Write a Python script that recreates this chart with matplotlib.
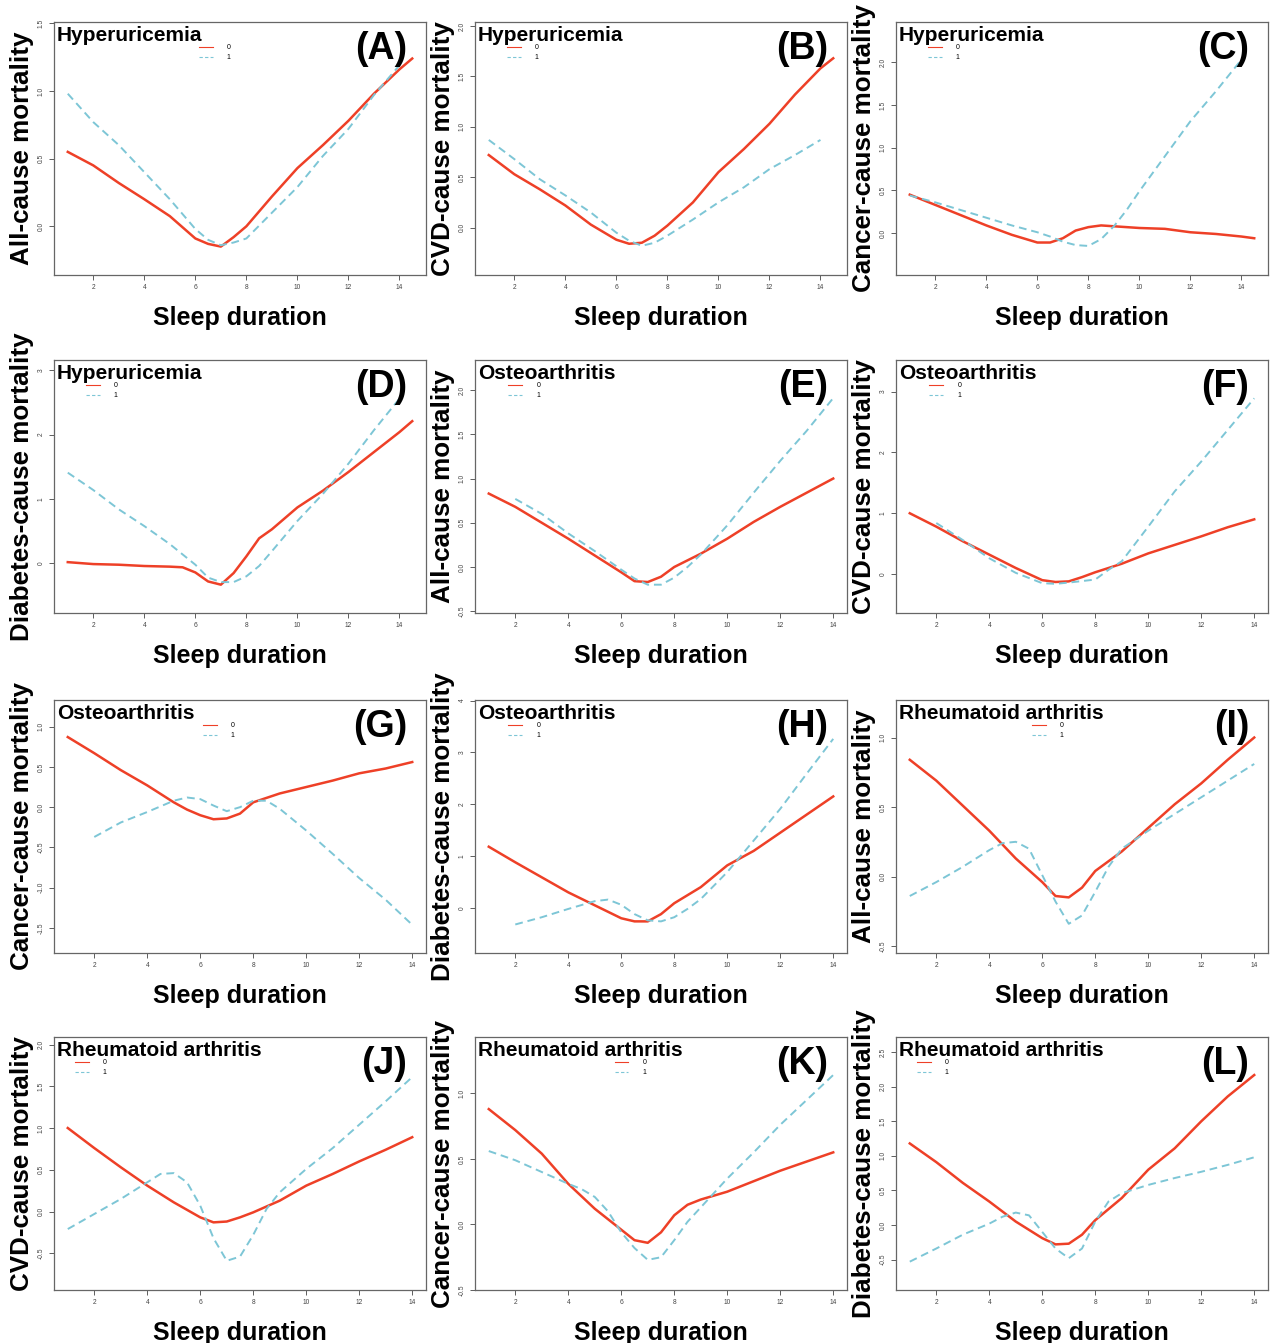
# -*- coding: utf-8 -*-
"""Sleep duration vs. mortality — 12 panel grid (A–L), group 0 vs. group 1.

Values read off the published figure; each panel shows one disease split
(0 = without, 1 = with) and one mortality outcome.
"""
import matplotlib
matplotlib.use("Agg")
import matplotlib.pyplot as plt
from matplotlib.lines import Line2D

plt.rcParams["font.family"] = ["Liberation Sans", "DejaVu Sans"]

RED = "#EE4027"
BLUE = "#7DC6D6"

# ---- data (sleep duration on x, log hazard on y) ----
a_red_x = [1, 2, 3, 4, 5, 6, 6.5, 7, 7.5, 8, 9, 10, 11, 12, 13, 14, 14.5]
a_red_y = [0.55, 0.45, 0.32, 0.20, 0.075, -0.09, -0.13, -0.15, -0.08, 0.0, 0.22, 0.43, 0.60, 0.78, 0.98, 1.16, 1.24]
a_blue_x = [1, 2, 3, 4, 5, 6, 6.5, 7, 7.5, 8, 9, 10, 11, 12, 13, 14]
a_blue_y = [0.98, 0.77, 0.60, 0.40, 0.20, -0.02, -0.10, -0.14, -0.12, -0.09, 0.10, 0.29, 0.52, 0.72, 0.97, 1.19]

b_red_x = [1, 2, 3, 4, 5, 6, 6.5, 7, 7.5, 8, 9, 10, 11, 12, 13, 14, 14.5]
b_red_y = [0.72, 0.53, 0.38, 0.22, 0.03, -0.12, -0.16, -0.15, -0.08, 0.02, 0.25, 0.55, 0.78, 1.03, 1.32, 1.58, 1.68]
b_blue_x = [1, 2, 3, 4, 5, 6, 6.5, 7, 7.5, 8, 9, 10, 11, 12, 13, 14]
b_blue_y = [0.87, 0.68, 0.48, 0.32, 0.15, -0.05, -0.13, -0.18, -0.15, -0.08, 0.08, 0.25, 0.40, 0.58, 0.72, 0.87]

c_red_x = [1, 2, 3, 4, 5, 6, 6.5, 7, 7.5, 8, 8.5, 9, 10, 11, 12, 13, 14, 14.5]
c_red_y = [0.45, 0.33, 0.21, 0.09, -0.02, -0.11, -0.11, -0.06, 0.03, 0.07, 0.09, 0.08, 0.06, 0.05, 0.01, -0.01, -0.04, -0.06]
c_blue_x = [1, 2, 3, 4, 5, 6, 6.5, 7, 7.5, 8, 8.5, 9, 9.5, 10, 11, 12, 13, 14]
c_blue_y = [0.44, 0.36, 0.27, 0.18, 0.09, 0.01, -0.04, -0.10, -0.14, -0.15, -0.07, 0.08, 0.27, 0.49, 0.90, 1.31, 1.66, 2.03]

d_red_x = [1, 2, 3, 4, 5, 5.5, 6, 6.5, 7, 7.5, 8, 8.5, 9, 10, 11, 12, 13, 14, 14.5]
d_red_y = [0.02, -0.01, -0.02, -0.04, -0.05, -0.06, -0.14, -0.28, -0.33, -0.15, 0.11, 0.39, 0.53, 0.87, 1.13, 1.42, 1.73, 2.04, 2.21]
d_blue_x = [1, 2, 3, 4, 5, 6, 6.5, 7, 7.5, 8, 8.5, 9, 10, 11, 12, 13, 14]
d_blue_y = [1.41, 1.14, 0.84, 0.58, 0.30, -0.02, -0.22, -0.29, -0.29, -0.20, -0.04, 0.19, 0.66, 1.08, 1.55, 2.07, 2.56]

e_red_x = [1, 2, 3, 4, 5, 6, 6.5, 7, 7.5, 8, 9, 10, 11, 12, 13, 14]
e_red_y = [0.83, 0.68, 0.50, 0.32, 0.13, -0.06, -0.16, -0.17, -0.11, 0.0, 0.15, 0.32, 0.51, 0.68, 0.84, 1.0]
e_blue_x = [2, 3, 4, 5, 6, 6.5, 7, 7.5, 8, 8.5, 9, 10, 11, 12, 13, 14]
e_blue_y = [0.77, 0.60, 0.38, 0.18, -0.03, -0.13, -0.20, -0.20, -0.12, 0.0, 0.14, 0.47, 0.84, 1.20, 1.54, 1.91]

f_red_x = [1, 2, 3, 4, 5, 6, 6.5, 7, 7.5, 8, 9, 10, 11, 12, 13, 14]
f_red_y = [1.0, 0.78, 0.54, 0.32, 0.10, -0.10, -0.13, -0.12, -0.05, 0.03, 0.17, 0.34, 0.48, 0.62, 0.77, 0.90]
f_blue_x = [2, 3, 4, 5, 6, 6.5, 7, 8, 8.5, 9, 10, 11, 12, 13, 14]
f_blue_y = [0.84, 0.56, 0.26, 0.02, -0.15, -0.16, -0.14, -0.09, 0.07, 0.21, 0.78, 1.36, 1.85, 2.37, 2.89]

g_red_x = [1, 2, 3, 4, 5, 5.5, 6, 6.5, 7, 7.5, 8, 9, 10, 11, 12, 13, 14]
g_red_y = [0.87, 0.67, 0.46, 0.27, 0.06, -0.03, -0.10, -0.15, -0.14, -0.08, 0.06, 0.17, 0.25, 0.33, 0.42, 0.48, 0.56]
g_blue_x = [2, 3, 4, 5, 5.5, 6, 6.5, 7, 7.5, 8, 8.5, 9, 10, 11, 12, 13, 14]
g_blue_y = [-0.37, -0.19, -0.06, 0.08, 0.12, 0.10, 0.02, -0.05, 0.0, 0.08, 0.08, -0.02, -0.29, -0.58, -0.88, -1.15, -1.46]

h_red_x = [1, 2, 3, 4, 5, 6, 6.5, 7, 7.5, 8, 9, 10, 11, 12, 13, 14]
h_red_y = [1.18, 0.88, 0.59, 0.30, 0.05, -0.20, -0.26, -0.26, -0.12, 0.09, 0.40, 0.82, 1.10, 1.45, 1.80, 2.15]
h_blue_x = [2, 3, 4, 5, 5.5, 6, 6.5, 7, 7.5, 8, 8.5, 9, 10, 11, 12, 13, 14]
h_blue_y = [-0.32, -0.18, -0.02, 0.13, 0.16, 0.06, -0.12, -0.24, -0.26, -0.18, -0.02, 0.17, 0.69, 1.30, 1.91, 2.59, 3.26]

i_red_x = [1, 2, 3, 4, 5, 6, 6.5, 7, 7.5, 8, 9, 10, 11, 12, 13, 14]
i_red_y = [0.84, 0.69, 0.51, 0.33, 0.13, -0.04, -0.14, -0.15, -0.08, 0.04, 0.18, 0.35, 0.52, 0.67, 0.84, 1.0]
i_blue_x = [1, 2, 3, 4, 4.5, 5, 5.5, 6, 6.5, 7, 7.5, 8, 8.5, 9, 10, 11, 12, 13, 14]
i_blue_y = [-0.14, -0.04, 0.07, 0.19, 0.24, 0.25, 0.20, 0.01, -0.18, -0.34, -0.28, -0.11, 0.07, 0.20, 0.33, 0.45, 0.57, 0.69, 0.81]

j_red_x = [1, 2, 3, 4, 5, 6, 6.5, 7, 7.5, 8, 9, 10, 11, 12, 13, 14]
j_red_y = [1.0, 0.76, 0.53, 0.31, 0.11, -0.07, -0.13, -0.12, -0.07, -0.01, 0.13, 0.31, 0.45, 0.60, 0.74, 0.89]
j_blue_x = [1, 2, 3, 4, 4.5, 5, 5.5, 6, 6.5, 7, 7.5, 8, 8.5, 9, 10, 11, 12, 13, 14]
j_blue_y = [-0.21, -0.03, 0.15, 0.35, 0.45, 0.46, 0.35, 0.07, -0.32, -0.59, -0.54, -0.28, 0.03, 0.23, 0.51, 0.76, 1.04, 1.32, 1.61]

k_red_x = [1, 2, 3, 4, 5, 6, 6.5, 7, 7.5, 8, 8.5, 9, 10, 11, 12, 13, 14]
k_red_y = [0.88, 0.72, 0.54, 0.31, 0.12, -0.04, -0.12, -0.14, -0.06, 0.07, 0.15, 0.19, 0.25, 0.33, 0.41, 0.48, 0.55]
k_blue_x = [1, 2, 3, 4, 4.5, 5, 5.5, 6, 6.5, 7, 7.5, 8, 8.5, 9, 10, 11, 12, 13, 14]
k_blue_y = [0.56, 0.49, 0.40, 0.31, 0.27, 0.21, 0.10, -0.06, -0.18, -0.27, -0.25, -0.12, 0.02, 0.13, 0.35, 0.55, 0.76, 0.95, 1.14]

l_red_x = [1, 2, 3, 4, 5, 6, 6.5, 7, 7.5, 8, 9, 10, 11, 12, 13, 14]
l_red_y = [1.18, 0.91, 0.61, 0.34, 0.05, -0.19, -0.28, -0.27, -0.14, 0.07, 0.39, 0.80, 1.11, 1.50, 1.86, 2.17]
l_blue_x = [1, 2, 3, 4, 4.5, 5, 5.5, 6, 6.5, 7, 7.5, 8, 8.5, 9, 10, 11, 12, 13, 14]
l_blue_y = [-0.53, -0.34, -0.14, 0.02, 0.12, 0.18, 0.14, -0.10, -0.34, -0.48, -0.34, 0.05, 0.34, 0.46, 0.58, 0.68, 0.77, 0.87, 0.98]

x_ticks = [2, 4, 6, 8, 10, 12, 14]

# (letter, disease, outcome, red, blue, ylim, yticks, ytick labels, legend x)
panels = [
    ("A", "Hyperuricemia", "All-cause mortality", (a_red_x, a_red_y), (a_blue_x, a_blue_y),
     (-0.36, 1.51), [0, 0.5, 1, 1.5], ["0.0", "0.5", "1.0", "1.5"], 0.39),
    ("B", "Hyperuricemia", "CVD-cause mortality", (b_red_x, b_red_y), (b_blue_x, b_blue_y),
     (-0.47, 2.04), [0, 0.5, 1, 1.5, 2], ["0.0", "0.5", "1.0", "1.5", "2.0"], 0.086),
    ("C", "Hyperuricemia", "Cancer-cause mortality", (c_red_x, c_red_y), (c_blue_x, c_blue_y),
     (-0.49, 2.47), [0, 0.5, 1, 1.5, 2], ["0.0", "0.5", "1.0", "1.5", "2.0"], 0.086),
    ("D", "Hyperuricemia", "Diabetes-cause mortality", (d_red_x, d_red_y), (d_blue_x, d_blue_y),
     (-0.77, 3.16), [0, 1, 2, 3], ["0", "1", "2", "3"], 0.086),
    ("E", "Osteoarthritis", "All-cause mortality", (e_red_x, e_red_y), (e_blue_x, e_blue_y),
     (-0.52, 2.34), [-0.5, 0, 0.5, 1, 1.5, 2], ["-0.5", "0.0", "0.5", "1.0", "1.5", "2.0"], 0.09),
    ("F", "Osteoarthritis", "CVD-cause mortality", (f_red_x, f_red_y), (f_blue_x, f_blue_y),
     (-0.64, 3.52), [0, 1, 2, 3], ["0", "1", "2", "3"], 0.09),
    ("G", "Osteoarthritis", "Cancer-cause mortality", (g_red_x, g_red_y), (g_blue_x, g_blue_y),
     (-1.81, 1.33), [-1.5, -1, -0.5, 0, 0.5, 1], ["-1.5", "-1.0", "-0.5", "0.0", "0.5", "1.0"], 0.40),
    ("H", "Osteoarthritis", "Diabetes-cause mortality", (h_red_x, h_red_y), (h_blue_x, h_blue_y),
     (-0.87, 4.01), [0, 1, 2, 3, 4], ["0", "1", "2", "3", "4"], 0.09),
    ("I", "Rheumatoid arthritis", "All-cause mortality", (i_red_x, i_red_y), (i_blue_x, i_blue_y),
     (-0.55, 1.27), [-0.5, 0, 0.5, 1], ["-0.5", "0.0", "0.5", "1.0"], 0.365),
    ("J", "Rheumatoid arthritis", "CVD-cause mortality", (j_red_x, j_red_y), (j_blue_x, j_blue_y),
     (-0.94, 2.09), [-0.5, 0, 0.5, 1, 1.5, 2], ["-0.5", "0.0", "0.5", "1.0", "1.5", "2.0"], 0.056),
    ("K", "Rheumatoid arthritis", "Cancer-cause mortality", (k_red_x, k_red_y), (k_blue_x, k_blue_y),
     (-0.50, 1.43), [-0.5, 0, 0.5, 1], ["-0.5", "0.0", "0.5", "1.0"], 0.375),
    ("L", "Rheumatoid arthritis", "Diabetes-cause mortality", (l_red_x, l_red_y), (l_blue_x, l_blue_y),
     (-0.94, 2.72), [-0.5, 0, 0.5, 1, 1.5, 2, 2.5], ["-0.5", "0.0", "0.5", "1.0", "1.5", "2.0", "2.5"], 0.056),
]

# ---- layout in pixels (figure is 1271 x 1343 at dpi 100) ----
FIG_W, FIG_H = 1271, 1343
col_left = [54, 475, 896]
row_top = [22, 360, 700, 1037]
AX_W, AX_H = 372, 253

fig = plt.figure(figsize=(FIG_W / 100, FIG_H / 100), dpi=100)

for idx, (letter, disease, outcome, red, blue, ylim, yticks, ylabels, leg_x) in enumerate(panels):
    row, col = divmod(idx, 3)
    left = col_left[col] / FIG_W
    bottom = 1 - (row_top[row] + AX_H) / FIG_H
    ax = fig.add_axes([left, bottom, AX_W / FIG_W, AX_H / FIG_H])

    ax.plot(red[0], red[1], color=RED, linewidth=1.8, solid_joinstyle="round")
    ax.plot(blue[0], blue[1], color=BLUE, linewidth=1.4, linestyle=(0, (4, 2.5)))

    # first four panels run to 14.5 h, the rest stop at 14 h
    ax.set_xlim((0.46, 15.04) if idx < 4 else (0.48, 14.52))
    ax.set_ylim(*ylim)
    ax.set_xticks(x_ticks, [str(t) for t in x_ticks])
    ax.set_yticks(yticks, ylabels)

    ax.tick_params(direction="out", length=3.5, width=0.6, colors="#444444",
                   labelsize=4.8, pad=3)
    ax.tick_params(axis="y", labelrotation=90)
    for label in ax.get_yticklabels():
        label.set_va("center")
    for spine in ax.spines.values():
        spine.set_color("#666666")
        spine.set_linewidth(0.9)

    ax.text(0.008, 0.948, disease, transform=ax.transAxes, ha="left", va="center",
            fontsize=15, fontweight="bold")
    ax.text(0.95, 0.895, f"({letter})", transform=ax.transAxes, ha="right", va="center",
            fontsize=27, fontweight="bold")

    handles = [
        Line2D([], [], color=RED, linewidth=0.8),
        Line2D([], [], color=BLUE, linewidth=0.8, linestyle=(0, (3, 2))),
    ]
    ax.legend(handles, ["0", "1"], loc="upper left", bbox_to_anchor=(leg_x, 0.912),
              frameon=False, fontsize=5, handlelength=2.0, handletextpad=2.0,
              labelspacing=0.45, borderpad=0, borderaxespad=0)

    ax.set_xlabel("Sleep duration", fontsize=18, fontweight="bold")
    ax.xaxis.label.set_va("center")
    ax.xaxis.set_label_coords(0.5, -0.17)
    ax.set_ylabel(outcome, fontsize=18.7, fontweight="bold")
    ax.yaxis.label.set_va("center")
    ax.yaxis.set_label_coords(-0.086, 0.5)

fig.savefig("out.png", dpi=100)
